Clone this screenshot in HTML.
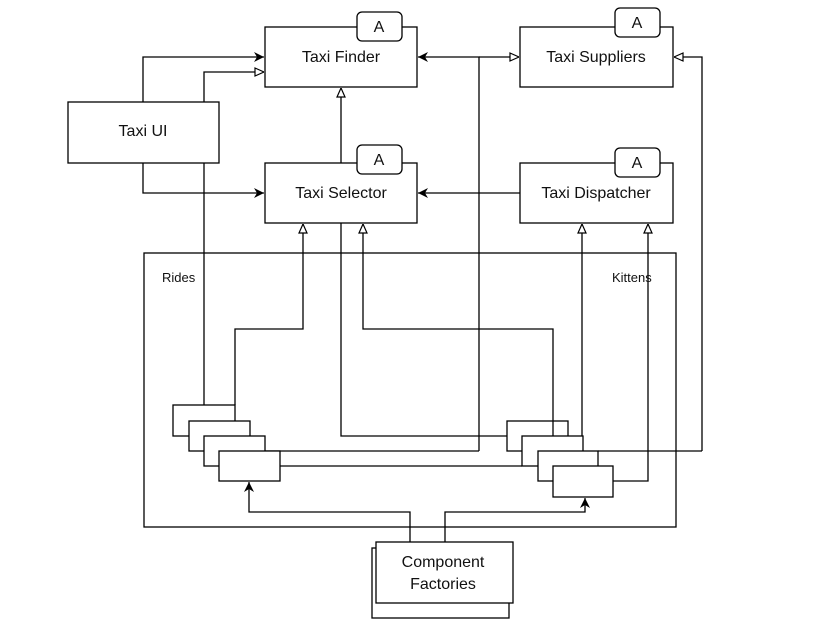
<!DOCTYPE html>
<html><head><meta charset="utf-8"><style>
html,body{margin:0;padding:0;background:#fff;}
svg{display:block;}
text{font-family:"Liberation Sans",sans-serif;fill:#111;}
</style></head><body>
<svg width="814" height="638" viewBox="0 0 814 638" xmlns="http://www.w3.org/2000/svg">
<defs>
<marker id="f" viewBox="0 0 10 10" refX="10" refY="5" markerWidth="10" markerHeight="10" markerUnits="userSpaceOnUse" orient="auto">
<path d="M0,0 L10,5 L0,10 L3,5 z" fill="#000"/></marker>
<marker id="o" viewBox="0 0 10 10" refX="10" refY="5" markerWidth="10" markerHeight="10" markerUnits="userSpaceOnUse" orient="auto">
<path d="M1,1 L10,5 L1,9 z" fill="#fff" stroke="#000" stroke-width="1.2"/></marker>
</defs>
<g fill="none" stroke="#000" stroke-width="1.3">
<rect x="144" y="253" width="532" height="274" fill="#fff"/>
<polyline points="143,102 143,57 264,57" marker-end="url(#f)"/>
<polyline points="204,102 204,72 264,72" marker-end="url(#o)"/>
<polyline points="143,163 143,193 264,193" marker-end="url(#f)"/>
<polyline points="204,163 204,405"/>
<polyline points="341,163 341,88" marker-end="url(#o)"/>
<polyline points="479,451 479,57 418,57" marker-end="url(#f)"/>
<polyline points="479,57 519,57" marker-end="url(#o)"/>
<polyline points="702,451 702,57 674,57" marker-end="url(#o)"/>
<polyline points="520,193 418,193" marker-end="url(#f)"/>
<polyline points="235,405 235,329 303,329 303,224" marker-end="url(#o)"/>
<polyline points="507,436 341,436 341,223"/>
<polyline points="553,420 553,329 363,329 363,224" marker-end="url(#o)"/>
<polyline points="582,420 582,224" marker-end="url(#o)"/>
<polyline points="613,481 648,481 648,224" marker-end="url(#o)"/>
<polyline points="265,451 479,451"/>
<polyline points="280,466 522,466"/>
<polyline points="598,451 702,451"/>
<polyline points="410,542 410,512 249,512 249,482" marker-end="url(#f)"/>
<polyline points="445,542 445,512 585,512 585,498" marker-end="url(#f)"/>
<rect x="68" y="102" width="151" height="61" fill="#fff"/>
<rect x="265" y="27" width="152" height="60" fill="#fff"/>
<rect x="357" y="12" width="45" height="29" rx="5" fill="#fff"/>
<rect x="520" y="27" width="153" height="60" fill="#fff"/>
<rect x="615" y="8" width="45" height="29" rx="5" fill="#fff"/>
<rect x="265" y="163" width="152" height="60" fill="#fff"/>
<rect x="357" y="145" width="45" height="29" rx="5" fill="#fff"/>
<rect x="520" y="163" width="153" height="60" fill="#fff"/>
<rect x="615" y="148" width="45" height="29" rx="5" fill="#fff"/>
<rect x="173" y="405" width="62" height="31" fill="#fff"/>
<rect x="189" y="421" width="61" height="30" fill="#fff"/>
<rect x="204" y="436" width="61" height="30" fill="#fff"/>
<rect x="219" y="451" width="61" height="30" fill="#fff"/>
<rect x="507" y="421" width="61" height="30" fill="#fff"/>
<rect x="522" y="436" width="61" height="30" fill="#fff"/>
<rect x="538" y="451" width="60" height="30" fill="#fff"/>
<rect x="553" y="466" width="60" height="31" fill="#fff"/>
<polyline points="553,420 553,436"/>
<polyline points="582,420 582,436"/>
<rect x="372" y="548" width="137" height="70" fill="#fff"/>
<rect x="376" y="542" width="137" height="61" fill="#fff"/>
</g>
<g font-size="16" text-anchor="middle">
<text x="143" y="136">Taxi UI</text>
<text x="341" y="62">Taxi Finder</text>
<text x="596" y="62">Taxi Suppliers</text>
<text x="341" y="198">Taxi Selector</text>
<text x="596" y="198">Taxi Dispatcher</text>
<text x="379" y="32">A</text>
<text x="637" y="28">A</text>
<text x="379" y="165">A</text>
<text x="637" y="168">A</text>
<text x="443" y="567">Component</text>
<text x="443" y="589">Factories</text>
</g>
<g font-size="13">
<text x="162" y="282">Rides</text>
<text x="612" y="282">Kittens</text>
</g>
</svg>
</body></html>
